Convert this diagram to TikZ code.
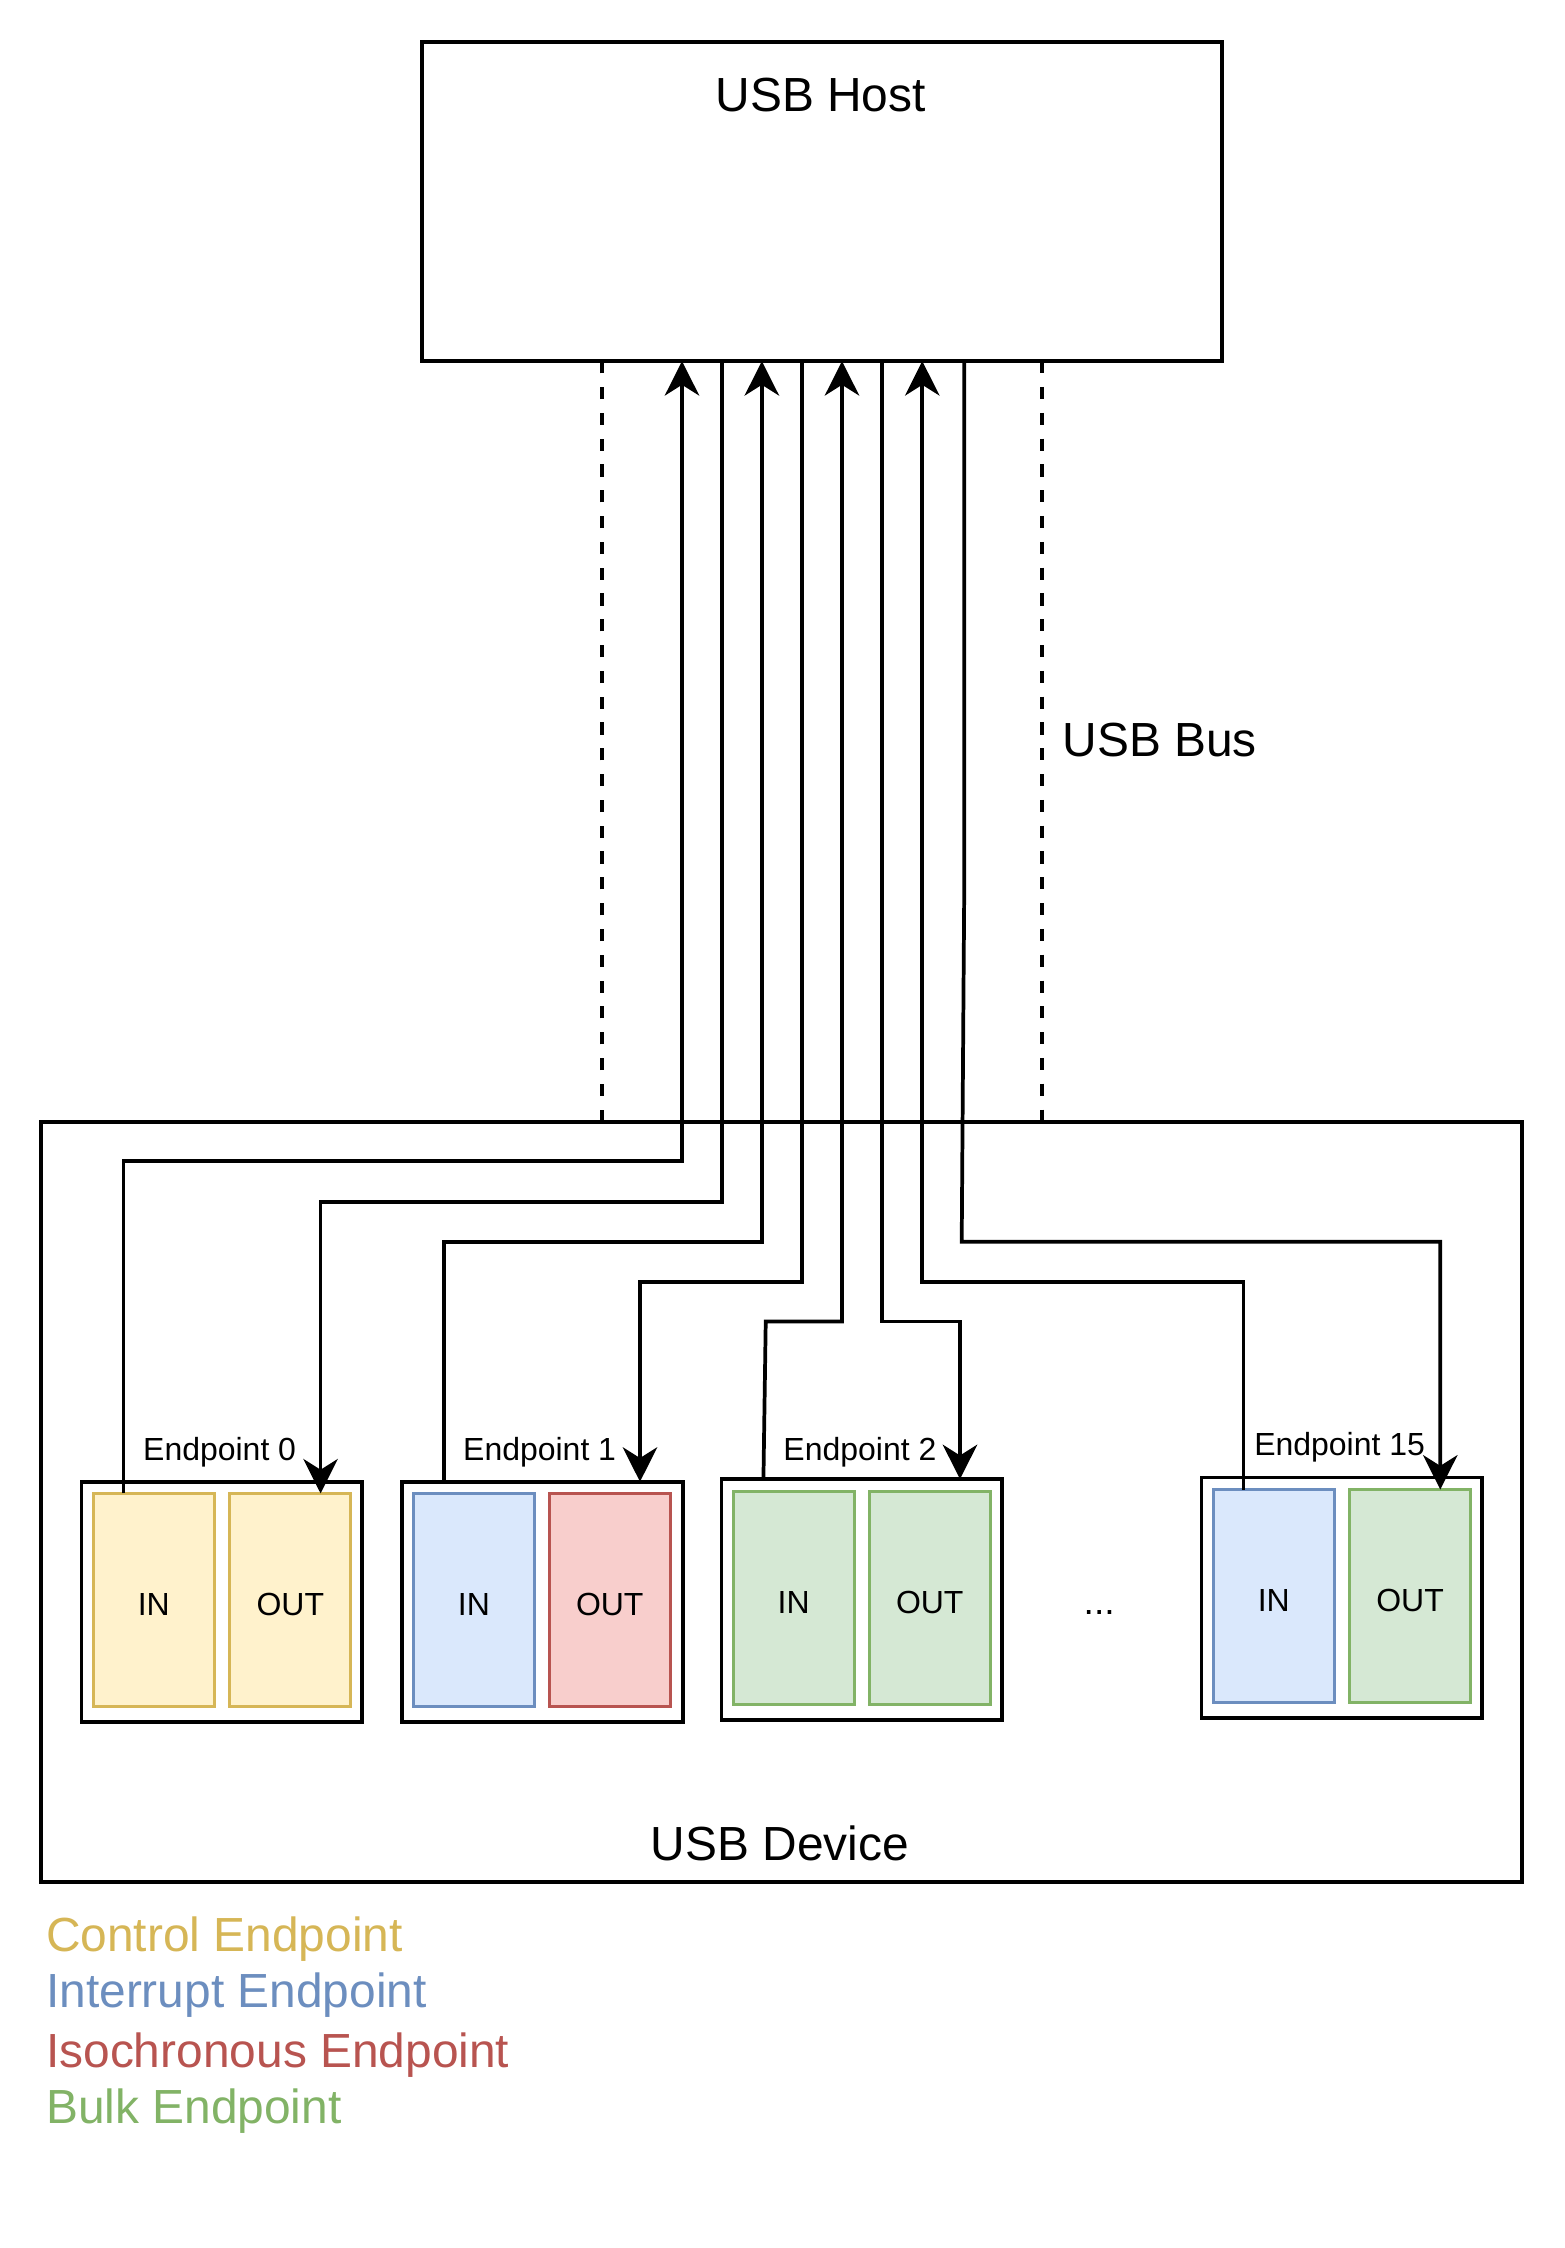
\documentclass[tikz,border=0pt]{standalone}
\usepackage{fontspec}
\setmainfont{Liberation Sans}
\usetikzlibrary{arrows.meta,calc}
\definecolor{ctlS}{HTML}{D6B656}
\definecolor{ctlF}{HTML}{FFF2CC}
\definecolor{intS}{HTML}{6C8EBF}
\definecolor{intF}{HTML}{DAE8FC}
\definecolor{isoS}{HTML}{B85450}
\definecolor{isoF}{HTML}{F8CECC}
\definecolor{blkS}{HTML}{82B366}
\definecolor{blkF}{HTML}{D5E8D4}
\begin{document}
\begin{tikzpicture}[x=1pt,y=-1pt,
  box/.style={draw=black, line width=2.6pt, inner sep=0pt, outer sep=0pt},
  epbox/.style={box, fill=white, minimum width=195.8pt, minimum height=167.8pt},
  slot/.style={line width=2.3pt, inner sep=0pt, outer sep=0pt, minimum width=84.4pt, minimum height=148.7pt},
  ctl/.style={slot, draw=ctlS, fill=ctlF},
  int/.style={slot, draw=intS, fill=intF},
  iso/.style={slot, draw=isoS, fill=isoF},
  blk/.style={slot, draw=blkS, fill=blkF},
  conn/.style={line width=2.6pt, draw=black},
  tip/.style={conn, -{Stealth[length=24pt,width=24pt,inset=7.5pt]}},
  busdash/.style={line width=2.6pt, draw=black, dash pattern=on 8.5pt off 9.5pt},
  bigtxt/.style={font=\fontsize{33.4}{40}\selectfont, inner sep=0pt},
  smalltxt/.style={font=\fontsize{22.3}{27}\selectfont, inner sep=0pt}]
\useasboundingbox[fill=white] (0,0) rectangle (1091,1568);

% host and device
\node[box, minimum width=557.9pt, minimum height=222.6pt] (host) at (573.25,140.6) {};
\node[bigtxt, anchor=base] (hostt) at (572.4,77.5) {USB Host};
\node[box, minimum width=1032.9pt, minimum height=530.2pt] (dev) at (544.95,1047.5) {};
\node[bigtxt, anchor=base] (devt) at (544,1297.5) {USB Device};
\node[bigtxt, anchor=base west] (bus) at (741,527.5) {USB Bus};

% endpoint groups
\node[epbox] (EP0) at (154.8,1117.4) {};
\node[epbox] (EP1) at (378.3,1117.4) {};
\node[epbox] (EP2) at (601.2,1115.6) {};
\node[epbox] (EP15) at (936,1114.4) {};

\node[ctl] (IN0) at (107.3,1116) {};
\node[ctl] (OUT0) at (202.5,1116) {};
\node[int] (IN1) at (330.6,1116) {};
\node[iso] (OUT1) at (425.3,1116) {};
\node[blk] (IN2) at (553.6,1114.5) {};
\node[blk] (OUT2) at (648.5,1114.5) {};
\node[int] (IN15) at (888.5,1113.3) {};
\node[blk] (OUT15) at (983.5,1113.3) {};

\node[smalltxt, anchor=base] (tIN0) at (107.3,1127) {IN};
\node[smalltxt, anchor=base] (tOUT0) at (202.5,1127) {OUT};
\node[smalltxt, anchor=base] (tIN1) at (330.6,1127) {IN};
\node[smalltxt, anchor=base] (tOUT1) at (425.3,1127) {OUT};
\node[smalltxt, anchor=base] (tIN2) at (553.6,1125.5) {IN};
\node[smalltxt, anchor=base] (tOUT2) at (648.5,1125.5) {OUT};
\node[smalltxt, anchor=base] (tIN15) at (888.5,1124.3) {IN};
\node[smalltxt, anchor=base] (tOUT15) at (983.5,1124.3) {OUT};

\node[smalltxt, anchor=base] (lEP0) at (153.2,1018.5) {Endpoint 0};
\node[smalltxt, anchor=base] (lEP1) at (376.4,1018.5) {Endpoint 1};
\node[smalltxt, anchor=base] (lEP2) at (599.8,1018.5) {Endpoint 2};
\node[smalltxt, anchor=base] (lEP15) at (934.4,1015) {Endpoint 15};
\node[anchor=base, inner sep=0pt, font=\fontsize{26}{30}\selectfont] (dots) at (766.7,1126) {...};

% legend
\node[bigtxt, anchor=base west, text=ctlS] (lg1) at (32,1361.4) {Control Endpoint};
\node[bigtxt, anchor=base west, text=intS] (lg2) at (32,1400.5) {Interrupt Endpoint};
\node[bigtxt, anchor=base west, text=isoS] (lg3) at (32,1442.1) {Isochronous Endpoint};
\node[bigtxt, anchor=base west, text=blkS] (lg4) at (32,1481.1) {Bulk Endpoint};

% helper coordinates
\coordinate (b1) at (475.7,0);
\coordinate (b2) at (503.6,0);
\coordinate (b3) at (531.4,0);
\coordinate (b4) at (559.4,0);
\coordinate (b5) at (587.3,0);
\coordinate (b6) at (615.0,0);
\coordinate (b7) at (643.3,0);
\coordinate (b8) at (672.6,0);
\coordinate (k5) at (534.1,0);
\coordinate (k8) at (670.8,0);
\coordinate (d1) at (420,0);
\coordinate (d2) at (726.9,0);
\coordinate (L1) at (0,810);
\coordinate (L2) at (0,838.4);
\coordinate (L3) at (0,866.2);
\coordinate (L4) at (0,894);
\coordinate (L5) at (0,921.8);
\coordinate (M8) at (0,615);
\coordinate (a0) at ($(IN0.north west)!0.25!(IN0.north east)$);
\coordinate (c0) at ($(OUT0.north west)!0.75!(OUT0.north east)$);
\coordinate (a1) at ($(IN1.north west)!0.25!(IN1.north east)$);
\coordinate (c1) at ($(OUT1.north west)!0.75!(OUT1.north east)$);
\coordinate (a2) at ($(IN2.north west)!0.25!(IN2.north east)$);
\coordinate (c2) at ($(OUT2.north west)!0.75!(OUT2.north east)$);
\coordinate (a15) at ($(IN15.north west)!0.25!(IN15.north east)$);
\coordinate (c15) at ($(OUT15.north west)!0.75!(OUT15.north east)$);

% bus dashed borders
\draw[busdash] (d1 |- dev.north) -- (d1 |- host.south);
\draw[busdash] (d2 |- host.south) -- (d2 |- dev.north);

% connectors
\draw[tip] (a0) |- (b1 |- L1) -- (b1 |- host.south);
\draw[tip] (b2 |- host.south) |- (c0 |- L2) -- (c0);
\draw[tip] (a1 |- EP1.north) |- (b3 |- L3) -- (b3 |- host.south);
\draw[tip] (b4 |- host.south) |- (c1 |- L4) -- (c1 |- EP1.north);
\draw[tip] (a2 |- EP2.north) -- (k5 |- L5) -- (b5 |- L5) -- (b5 |- host.south);
\draw[tip] (b6 |- host.south) |- (c2 |- L5) -- (c2 |- EP2.north);
\draw[tip] (a15) |- (b7 |- L4) -- (b7 |- host.south);
\draw[tip] (b8 |- host.south) -- (b8 |- M8) -- (k8 |- L3) -- (c15 |- L3) -- (c15);
\end{tikzpicture}
\end{document}
